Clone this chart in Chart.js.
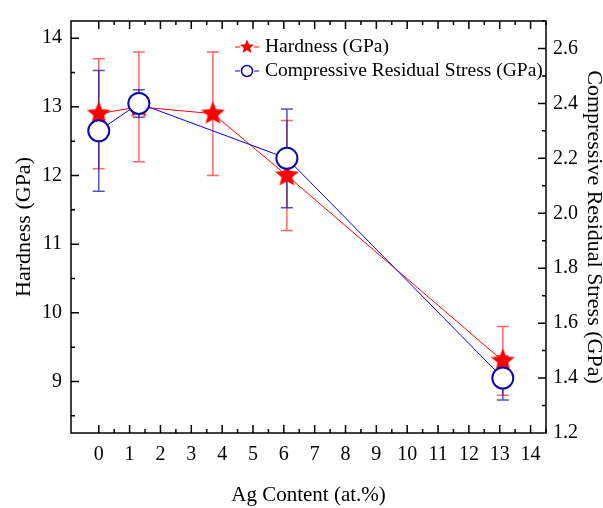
<!DOCTYPE html>
<html>
<head>
<meta charset="utf-8">
<script src="https://cdn.jsdelivr.net/npm/chart.js@4/dist/chart.umd.min.js"></script>
<style>
  html, body { margin: 0; padding: 0; background: #fff; }
  #wrap { width: 603px; height: 508px; }
</style>
</head>
<body>
<div id="wrap"><canvas id="hardnessChart" width="603" height="508"></canvas></div>
<script>
// values
var hardnessAg = [0, 1.3, 3.7, 6.1, 13.1];
var hardness = [12.9, 13.0, 12.9, 12.0, 9.3];
var hardnessErr = [0.8, 0.8, 0.9, 0.8, 0.5];

var stressAg = [0, 1.3, 6.1, 13.1];
var stress = [2.30, 2.40, 2.20, 1.40];
var stressErr = [0.22, 0.05, 0.18, 0.08];

var xTicks = [0, 1, 2, 3, 4, 5, 6, 7, 8, 9, 10, 11, 12, 13, 14];
var hardTicks = [9, 10, 11, 12, 13, 14];
var stressTicks = [1.2, 1.4, 1.6, 1.8, 2.0, 2.2, 2.4, 2.6];

var serif = '"Times New Roman", "Liberation Serif", Times, "DejaVu Serif", serif';
Chart.defaults.font.family = serif;
Chart.defaults.color = '#000';

function starPath(ctx, cx, cy, R, r) {
  ctx.beginPath();
  for (var i = 0; i < 10; i++) {
    var rad = i % 2 === 0 ? R : r;
    var a = -Math.PI / 2 + i * Math.PI / 5;
    var px = cx + rad * Math.cos(a), py = cy + rad * Math.sin(a);
    if (i === 0) ctx.moveTo(px, py); else ctx.lineTo(px, py);
  }
  ctx.closePath();
}

function makeStar(R) {
  var c = document.createElement('canvas');
  c.width = c.height = Math.ceil(R * 2 + 2);
  var g = c.getContext('2d');
  starPath(g, c.width / 2, c.height / 2, R, R * 0.45);
  g.fillStyle = '#ff0000';
  g.fill();
  return c;
}
var bigStar = makeStar(12.5);

function toPts(xs, ys) {
  return xs.map(function (x, i) { return { x: x, y: ys[i] }; });
}

// error bars under the markers
var errorBars = {
  id: 'errorBars',
  beforeDatasetsDraw: function (chart) {
    var ctx = chart.ctx;
    chart.data.datasets.forEach(function (ds) {
      var ys = chart.scales[ds.yAxisID];
      var xs = chart.scales.x;
      ctx.save();
      ctx.strokeStyle = ds.errColor;
      ctx.lineWidth = 1.5;
      ds.data.forEach(function (p, i) {
        var e = ds.err[i];
        var px = xs.getPixelForValue(p.x);
        var top = ys.getPixelForValue(p.y + e);
        var bot = ys.getPixelForValue(p.y - e);
        ctx.beginPath();
        ctx.moveTo(px, top); ctx.lineTo(px, bot);
        ctx.moveTo(px - 6, top); ctx.lineTo(px + 6, top);
        ctx.moveTo(px - 6, bot); ctx.lineTo(px + 6, bot);
        ctx.stroke();
      });
      ctx.restore();
    });
  }
};

// Origin-style box with inward ticks, plus the legend
var frame = {
  id: 'frame',
  afterDraw: function (chart) {
    var ctx = chart.ctx, a = chart.chartArea;
    var x = chart.scales.x, yl = chart.scales.y, yr = chart.scales.y1;
    ctx.save();
    ctx.strokeStyle = '#000';
    ctx.lineWidth = 1.5;
    ctx.strokeRect(a.left, a.top, a.right - a.left, a.bottom - a.top);
    ctx.beginPath();
    for (var v = 0; v <= 14.5; v += 0.5) {
      var px = x.getPixelForValue(v);
      var len = (v % 1 === 0) ? 8 : 4;
      ctx.moveTo(px, a.bottom); ctx.lineTo(px, a.bottom - len);
      ctx.moveTo(px, a.top); ctx.lineTo(px, a.top + len);
    }
    for (var h = 8.5; h <= 14.01; h += 0.5) {
      var py = yl.getPixelForValue(h);
      var l2 = (Math.abs(h - Math.round(h)) < 0.01) ? 8 : 4;
      ctx.moveTo(a.left, py); ctx.lineTo(a.left + l2, py);
    }
    for (var s = 1.3; s <= 2.71; s += 0.1) {
      var sy = yr.getPixelForValue(s);
      var k = Math.round(s * 10);
      var l3 = (k % 2 === 0) ? 8 : 4;
      ctx.moveTo(a.right, sy); ctx.lineTo(a.right - l3, sy);
    }
    ctx.stroke();

    // legend
    var lx = a.left + 176, ly1 = a.top + 26, ly2 = a.top + 50;
    ctx.lineWidth = 1;
    ctx.strokeStyle = '#ff0000';
    ctx.beginPath();
    ctx.moveTo(lx - 12, ly1); ctx.lineTo(lx - 7, ly1);
    ctx.moveTo(lx + 7, ly1); ctx.lineTo(lx + 12, ly1);
    ctx.stroke();
    starPath(ctx, lx, ly1, 7.5, 3.3);
    ctx.fillStyle = '#ff0000';
    ctx.fill();

    ctx.strokeStyle = '#0000ff';
    ctx.beginPath();
    ctx.moveTo(lx - 12, ly2); ctx.lineTo(lx - 7, ly2);
    ctx.moveTo(lx + 7, ly2); ctx.lineTo(lx + 12, ly2);
    ctx.stroke();
    ctx.beginPath();
    ctx.arc(lx, ly2, 5.5, 0, Math.PI * 2);
    ctx.fillStyle = '#fff';
    ctx.fill();
    ctx.lineWidth = 1.5;
    ctx.strokeStyle = '#0a0aa8';
    ctx.stroke();

    ctx.fillStyle = '#000';
    ctx.font = '19.5px ' + serif;
    ctx.textBaseline = 'middle';
    ctx.textAlign = 'left';
    ctx.fillText('Hardness (GPa)', lx + 18, ly1);
    ctx.fillText('Compressive Residual Stress (GPa)', lx + 18, ly2);
    ctx.restore();
  }
};

var ctx = document.getElementById('hardnessChart').getContext('2d');
var chart = new Chart(ctx, {
  type: 'scatter',
  data: {
    datasets: [{
      label: 'Hardness (GPa)',
      data: toPts(hardnessAg, hardness),
      err: hardnessErr,
      errColor: 'rgba(255,0,0,0.6)',
      yAxisID: 'y',
      showLine: true,
      borderColor: '#ff0000',
      borderWidth: 1,
      pointStyle: bigStar,
      pointRadius: 12,
      order: 2
    }, {
      label: 'Compressive Residual Stress (GPa)',
      data: toPts(stressAg, stress),
      err: stressErr,
      errColor: 'rgba(10,10,160,0.7)',
      yAxisID: 'y1',
      showLine: true,
      borderColor: '#0000ff',
      borderWidth: 1,
      pointStyle: 'circle',
      pointRadius: 10.5,
      pointBorderWidth: 2,
      pointBorderColor: '#0a0aa8',
      pointBackgroundColor: '#ffffff',
      order: 1
    }]
  },
  options: {
    responsive: false,
    animation: false,
    layout: { padding: { top: 8 } },
    plugins: { legend: { display: false }, tooltip: { enabled: false } },
    scales: {
      x: {
        type: 'linear', position: 'bottom', min: -0.9, max: 14.5,
        afterBuildTicks: function (s) { s.ticks = xTicks.map(function (v) { return { value: v }; }); },
        afterFit: function (s) { s.height = 75; },
        grid: { display: false, drawTicks: false },
        border: { display: false },
        ticks: { font: { family: serif, size: 20 }, color: '#000', padding: 10, maxRotation: 0, autoSkip: false },
        title: { display: true, text: 'Ag Content (at.%)', font: { family: serif, size: 21 }, color: '#000', padding: 0 }
      },
      y: {
        type: 'linear', position: 'left', min: 8.25, max: 14.25,
        afterBuildTicks: function (s) { s.ticks = hardTicks.map(function (v) { return { value: v }; }); },
        afterFit: function (s) { s.width = 71; },
        grid: { display: false, drawTicks: false },
        border: { display: false },
        ticks: { font: { family: serif, size: 20 }, color: '#000', padding: 9 },
        title: { display: true, text: 'Hardness (GPa)', font: { family: serif, size: 22 }, color: '#000', padding: { top: 11, bottom: 0 } }
      },
      y1: {
        type: 'linear', position: 'right', min: 1.2, max: 2.7,
        afterBuildTicks: function (s) { s.ticks = stressTicks.map(function (v) { return { value: v }; }); },
        afterFit: function (s) { s.width = 57; },
        grid: { display: false, drawTicks: false },
        border: { display: false },
        ticks: { font: { family: serif, size: 20 }, color: '#000', padding: 7, callback: function (v) { return v.toFixed(1); } },
        title: { display: true, text: 'Compressive Residual Stress (GPa)', font: { family: serif, size: 22, lineHeight: 0.8 }, color: '#000', padding: 0 }
      }
    }
  },
  plugins: [errorBars, frame]
});
</script>
</body>
</html>
